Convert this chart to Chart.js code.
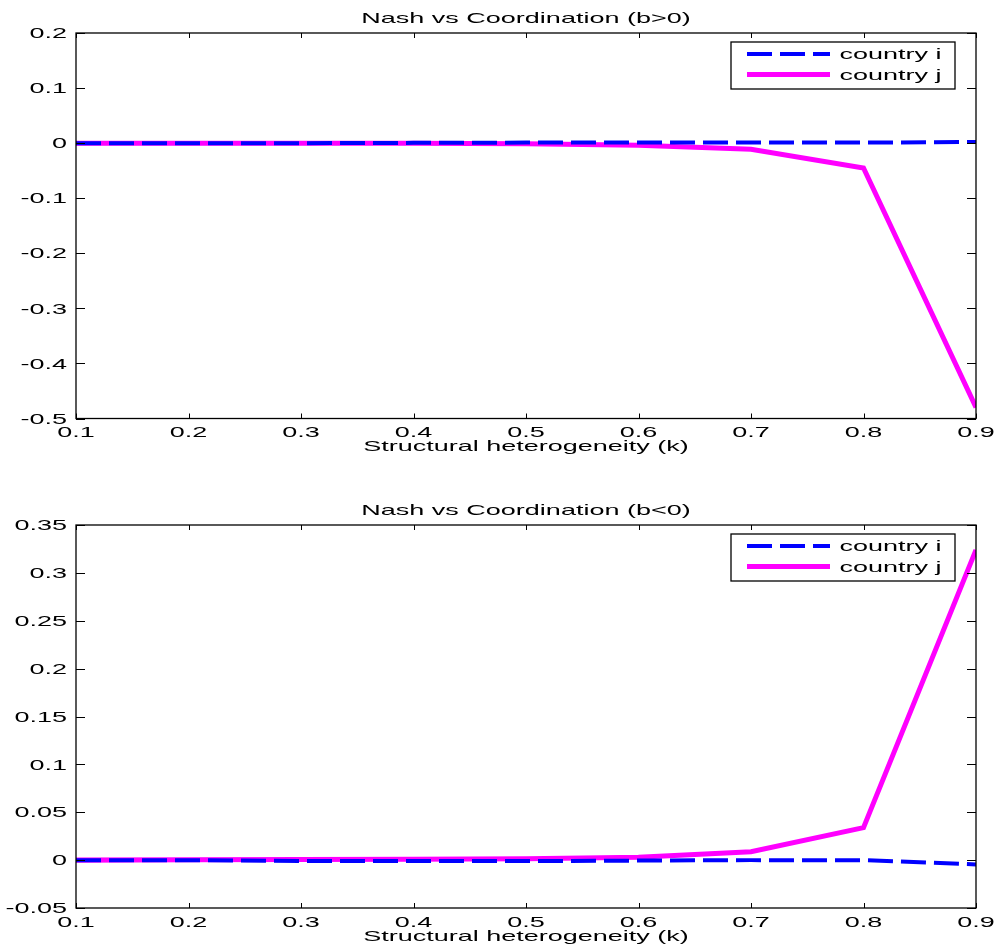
<!DOCTYPE html>
<html>
<head>
<meta charset="utf-8">
<script src="https://cdn.jsdelivr.net/npm/chart.js@4"></script>
<style>
  body { margin: 0; background: #fff; }
  canvas { display: block; }
</style>
</head>
<body>
<canvas id="top" width="996" height="470"></canvas>
<canvas id="bottom" width="996" height="479"></canvas>
<script>
// structural heterogeneity k
const kValues = [0.1, 0.2, 0.3, 0.4, 0.5, 0.6, 0.7, 0.8, 0.9];

// Nash vs Coordination, b>0
const iPos = [0, 0, 0, 0.0005, 0.001, 0.001, 0.001, 0.001, 0.002];
const jPos = [0, 0, 0, -0.0003, -0.001, -0.004, -0.011, -0.045, -0.48];

// Nash vs Coordination, b<0
const iNeg = [0, 0, -0.001, -0.001, -0.001, -0.0005, 0, 0, -0.0045];
const jNeg = [0, 0.0003, 0.0007, 0.001, 0.0015, 0.003, 0.0087, 0.034, 0.324];

const seriesLabels = ['country i', 'country j'];
const xLabel = 'Structural heterogeneity (k)';

const FONT = '15px "Liberation Sans", Arial, sans-serif';
const SX = 1.8; // the original text is stretched wide

function wideText(ctx, str, x, y, align) {
  ctx.save();
  ctx.translate(x, y);
  ctx.scale(SX, 1);
  ctx.textAlign = align;
  ctx.textBaseline = 'alphabetic';
  ctx.fillText(str, 0, 0);
  ctx.restore();
}

function fmt(v) {
  return String(Number(v.toFixed(3)));
}

const matlabAxes = {
  id: 'matlabAxes',
  afterDraw(chart, args, opts) {
    const ctx = chart.ctx;
    const a = chart.chartArea;
    const xs = chart.scales.x;
    const ys = chart.scales.y;
    ctx.save();
    ctx.strokeStyle = '#000';
    ctx.lineWidth = 1;

    // ticks on all four sides, pointing in
    ctx.beginPath();
    xs.ticks.forEach(t => {
      const px = Math.round(xs.getPixelForValue(t.value)) + 0.5;
      ctx.moveTo(px, a.bottom); ctx.lineTo(px, a.bottom - 5);
      ctx.moveTo(px, a.top); ctx.lineTo(px, a.top + 5);
    });
    ys.ticks.forEach(t => {
      const py = Math.round(ys.getPixelForValue(t.value)) + 0.5;
      ctx.moveTo(a.left, py); ctx.lineTo(a.left + 9, py);
      ctx.moveTo(a.right, py); ctx.lineTo(a.right - 9, py);
    });
    ctx.stroke();
    ctx.lineWidth = 1.3;
    ctx.strokeRect(a.left, a.top, a.right - a.left, a.bottom - a.top);

    // labels
    ctx.fillStyle = '#000';
    ctx.font = FONT;
    xs.ticks.forEach(t => {
      wideText(ctx, fmt(t.value), xs.getPixelForValue(t.value), a.bottom + 18.5, 'center');
    });
    ys.ticks.forEach(t => {
      wideText(ctx, fmt(t.value), a.left - 9, ys.getPixelForValue(t.value) + 5.2, 'right');
    });
    const cx = (a.left + a.right) / 2;
    wideText(ctx, opts.title, cx, a.top - 10.3, 'center');
    wideText(ctx, xLabel, cx, a.bottom + 32.5, 'center');

    // legend box
    const bx = 731, bw = a.right - 21 - 731, by = a.top + 9, bh = 47;
    ctx.fillStyle = '#fff';
    ctx.fillRect(bx, by, bw, bh);
    ctx.lineWidth = 1.3;
    ctx.strokeRect(bx, by, bw, bh);
    chart.data.datasets.forEach((ds, n) => {
      const ry = by + 12 + n * 20.5;
      ctx.save();
      ctx.strokeStyle = ds.borderColor;
      ctx.lineWidth = ds.borderWidth;
      ctx.setLineDash(ds.borderDash || []);
      ctx.beginPath();
      ctx.moveTo(747, ry);
      ctx.lineTo(830, ry);
      ctx.stroke();
      ctx.restore();
      ctx.fillStyle = '#000';
      wideText(ctx, ds.label, 839.5, ry + 5, 'left');
    });
    ctx.restore();
  }
};

function makeChart(id, iVals, jVals, yMin, yMax, yStep, title, padTop, xHeight) {
  const ctx = document.getElementById(id).getContext('2d');
  return new Chart(ctx, {
    type: 'line',
    data: {
      datasets: [
        {
          label: seriesLabels[0],
          data: kValues.map((k, n) => ({ x: k, y: iVals[n] })),
          borderColor: '#0000ff',
          borderWidth: 4,
          borderDash: [25, 8],
          pointRadius: 0,
          fill: false,
        },
        {
          label: seriesLabels[1],
          data: kValues.map((k, n) => ({ x: k, y: jVals[n] })),
          borderColor: '#ff00ff',
          borderWidth: 5,
          pointRadius: 0,
          fill: false,
        },
      ],
    },
    options: {
      responsive: false,
      animation: false,
      devicePixelRatio: 1,
      layout: { padding: { left: 0, right: 20, top: padTop, bottom: 0 } },
      plugins: {
        legend: { display: false },
        title: { display: false },
        tooltip: { enabled: false },
        matlabAxes: { title: title },
      },
      scales: {
        x: {
          type: 'linear',
          min: 0.1,
          max: 0.9,
          ticks: { display: false, stepSize: 0.1 },
          grid: { display: false },
          border: { display: false },
          afterFit(scale) { scale.height = xHeight; },
        },
        y: {
          min: yMin,
          max: yMax,
          ticks: { display: false, stepSize: yStep },
          grid: { display: false },
          border: { display: false },
          afterFit(scale) { scale.width = 76; },
        },
      },
    },
    plugins: [matlabAxes],
  });
}

makeChart('top', iPos, jPos, -0.5, 0.2, 0.1, 'Nash vs Coordination (b>0)', 33, 51.5);
makeChart('bottom', iNeg, jNeg, -0.05, 0.35, 0.05, 'Nash vs Coordination (b<0)', 55, 41);
</script>
</body>
</html>
